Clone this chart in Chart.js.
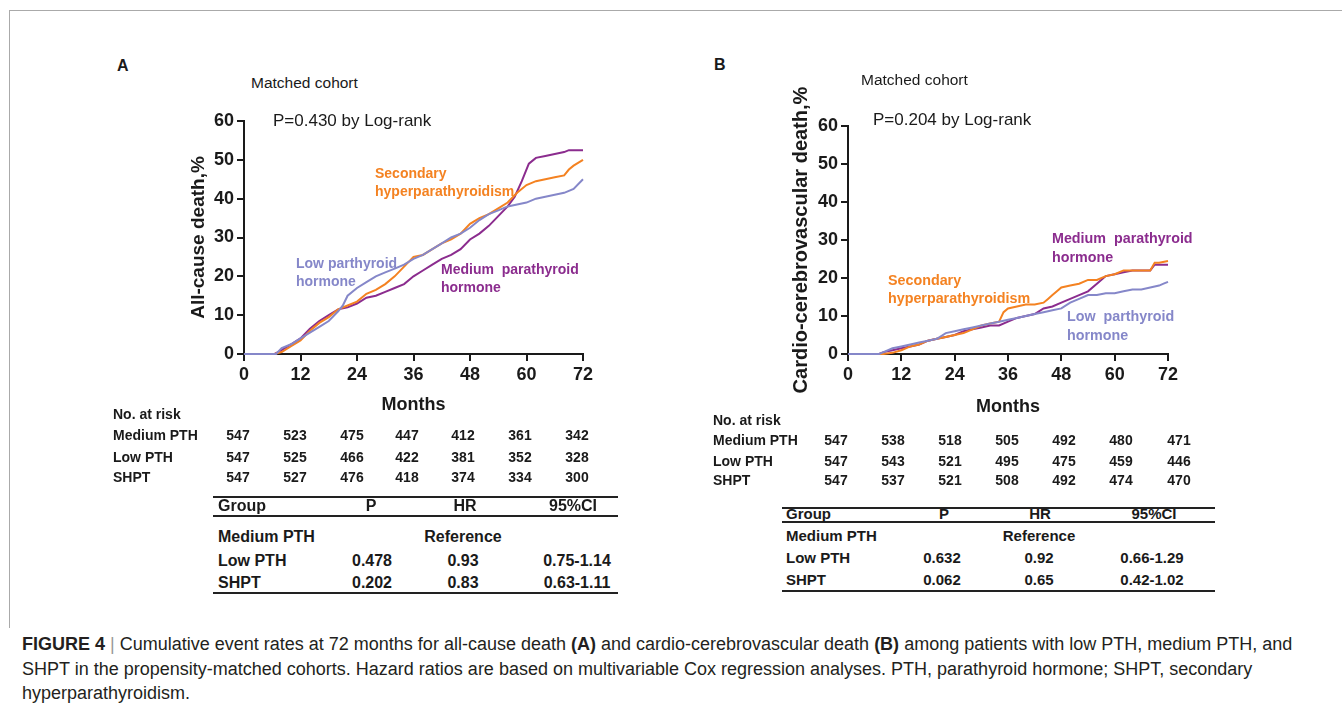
<!DOCTYPE html>
<html>
<head>
<meta charset="utf-8">
<script src="https://cdn.jsdelivr.net/npm/chart.js@4.4.1/dist/chart.umd.min.js"></script>
<style>
  body { margin: 0; background: #fff; }
  #page { position: relative; width: 1342px; height: 711px; overflow: hidden;
          font-family: 'Liberation Sans', Arial, sans-serif; color: #1a1a1a; }
  canvas { position: absolute; }
  .t { position: absolute; white-space: pre; }
  .rule { position: absolute; background: #222; }
  .frame { position: absolute; background: #aaa; }
</style>
</head>
<body>
<div id="page">
  <div class="frame" style="left:9px;top:10px;width:1333px;height:1px"></div>
  <div class="frame" style="left:9px;top:10px;width:1px;height:618px"></div>
  <canvas id="chartA" width="430" height="316" style="left:170px;top:100px"></canvas>
  <canvas id="chartB" width="415" height="348" style="left:770px;top:70px"></canvas>
</div>
<script>
// colours
const C_MED = '#8b2c8e';
const C_LOW = '#8587c9';
const C_SHPT = '#f48221';

// ---- Panel A: all-cause death (%) ----
const aMedMonths = [0, 6.5, 8, 10, 12, 14, 16, 18, 20, 22, 24, 26, 28, 30, 32, 34, 36, 38, 40, 42, 44, 46, 48, 50, 52, 54, 56, 57.5, 59, 60.5, 62, 64, 66, 68, 69, 70, 72];
const aMedValues = [0, 0, 1, 2.5, 4, 6.5, 8.5, 10, 11.5, 12, 13, 14.5, 15, 16, 17, 18, 20, 21.5, 23, 24.5, 25.5, 27, 29.5, 31, 33, 35.5, 38, 40.5, 44.5, 49, 50.5, 51, 51.5, 52, 52.5, 52.5, 52.5];
const aLowMonths = [0, 6.8, 8, 10, 12, 14, 16, 18, 20, 21, 22, 24, 26, 28, 30, 32, 34, 36, 38, 40, 42, 44, 46, 48, 50, 52, 54, 56, 58, 60, 62, 64, 66, 68, 70, 72];
const aLowValues = [0, 0, 1.5, 2.5, 4, 5.5, 7, 8.5, 11, 12.5, 15, 17, 18.5, 20, 21, 22, 23, 24.5, 25.5, 27, 28.5, 30, 31, 32.5, 34.5, 36, 37, 38, 38.5, 39, 40, 40.5, 41, 41.5, 42.5, 45];
const aShptMonths = [0, 6.5, 8, 10, 12, 14, 16, 18, 20, 22, 24, 26, 28, 30, 32, 34, 36, 38, 40, 42, 44, 46, 48, 50, 52, 54, 56, 58, 60, 62, 64, 66, 68, 69, 70, 72];
const aShptValues = [0, 0, 0.5, 2, 3.5, 6, 8, 9.5, 11.5, 12.5, 13.5, 15.5, 16.5, 18, 20, 22.5, 25, 25.5, 27, 28.5, 29.5, 31, 33.5, 35, 36, 37.5, 39, 41.5, 43.5, 44.5, 45, 45.5, 46, 47.5, 48.5, 50];

// ---- Panel B: cardio-cerebrovascular death (%) ----
const bMedMonths = [0, 7, 8, 10, 12, 14, 16, 18, 20, 22, 24, 26, 28, 30, 32, 34, 36, 38, 40, 42, 44, 46, 48, 50, 52, 54, 56, 58, 60, 62, 64, 66, 68, 69, 70, 72];
const bMedValues = [0, 0, 0.5, 1, 1.5, 2, 2.5, 3.5, 4, 4.5, 5, 6, 6.5, 7, 7.5, 7.5, 8.5, 9.5, 10, 10.5, 12, 12.5, 13.5, 14.5, 15.5, 16.5, 18.5, 20.5, 21, 21.5, 22, 22, 22, 23.5, 23.5, 23.5];
const bLowMonths = [0, 7, 8, 10, 12, 14, 16, 18, 20, 22, 24, 26, 28, 30, 32, 34, 36, 38, 40, 42, 44, 46, 48, 50, 52, 54, 56, 58, 60, 62, 64, 66, 68, 70, 71, 72];
const bLowValues = [0, 0, 0.5, 1.5, 2, 2.5, 3, 3.5, 4, 5.5, 6, 6.5, 7, 7.5, 8, 8.5, 9, 9.5, 10, 10.5, 11, 11.5, 12, 13.5, 14.5, 15.5, 15.5, 16, 16, 16.5, 17, 17, 17.5, 18, 18.5, 19];
const bShptMonths = [0, 8, 10, 12, 13, 14, 16, 18, 20, 22, 24, 26, 28, 30, 32, 34, 35, 36, 38, 40, 42, 44, 45, 46, 47, 48, 50, 52, 54, 56, 58, 60, 62, 64, 66, 68, 69, 70, 72];
const bShptValues = [0, 0, 0.3, 1, 1.5, 2, 2.5, 3.5, 4, 4.5, 5, 5.5, 6.5, 7.5, 8, 8.5, 11, 12, 12.5, 13, 13, 13.5, 14.5, 15.5, 16.5, 17.5, 18, 18.5, 19.5, 19.5, 20.5, 21, 22, 22, 22, 22, 24, 24, 24.5];

// number at risk (0,12,...,72 months)
const riskGroups = ['Medium PTH', 'Low PTH', 'SHPT'];
const riskA = [[547, 523, 475, 447, 412, 361, 342], [547, 525, 466, 422, 381, 352, 328], [547, 527, 476, 418, 374, 334, 300]];
const riskB = [[547, 538, 518, 505, 492, 480, 471], [547, 543, 521, 495, 475, 459, 446], [547, 537, 521, 508, 492, 474, 470]];

// Cox results: group, P, HR, 95%CI
const coxA = [['Medium PTH', '', 'Reference', ''], ['Low PTH', '0.478', '0.93', '0.75-1.14'], ['SHPT', '0.202', '0.83', '0.63-1.11']];
const coxB = [['Medium PTH', '', 'Reference', ''], ['Low PTH', '0.632', '0.92', '0.66-1.29'], ['SHPT', '0.062', '0.65', '0.42-1.02']];

const FONT = "'Liberation Sans', Arial, sans-serif";
Chart.defaults.font.family = FONT;
Chart.defaults.color = '#1a1a1a';

function pts(xs, ys) {
  return xs.map((m, i) => ({ x: m, y: ys[i] }));
}

function kmChart(id, lines, yTitle, yTitleSize, yW, xH, pad) {
  return new Chart(document.getElementById(id), {
    type: 'line',
    data: {
      datasets: lines.map(l => ({
        data: pts(l[0], l[1]),
        borderColor: l[2],
        borderWidth: 2,
        pointRadius: 0,
        tension: 0,
        fill: false,
        clip: 4
      }))
    },
    options: {
      responsive: false,
      animation: false,
      layout: { padding: pad },
      plugins: { legend: { display: false }, tooltip: { enabled: false } },
      scales: {
        x: {
          type: 'linear', min: 0, max: 72,
          ticks: { stepSize: 12, autoSkip: false, maxRotation: 0, padding: 3,
                   font: { size: 18, weight: 'bold' }, color: '#1a1a1a' },
          grid: { drawOnChartArea: false, color: '#1a1a1a', lineWidth: 2, tickLength: 7 },
          border: { color: '#1a1a1a', width: 2 },
          title: { display: true, text: 'Months', padding: 0, color: '#1a1a1a',
                   font: { size: 18, weight: 'bold' } },
          afterFit: s => { s.height = xH; }
        },
        y: {
          min: 0, max: 60,
          ticks: { stepSize: 10, padding: 3, font: { size: 18, weight: 'bold' }, color: '#1a1a1a' },
          grid: { drawOnChartArea: false, color: '#1a1a1a', lineWidth: 2, tickLength: 7 },
          border: { color: '#1a1a1a', width: 2 },
          title: { display: true, text: yTitle, padding: 0, color: '#1a1a1a',
                   font: { size: yTitleSize, weight: 'bold' } },
          afterFit: s => { s.width = yW; }
        }
      }
    }
  });
}

kmChart('chartA', [
  [aLowMonths, aLowValues, C_LOW],
  [aShptMonths, aShptValues, C_SHPT],
  [aMedMonths, aMedValues, C_MED]
], 'All-cause death,%', 19, 57, 62, { left: 17, top: 21, right: 17, bottom: 0 });

kmChart('chartB', [
  [bLowMonths, bLowValues, C_LOW],
  [bShptMonths, bShptValues, C_SHPT],
  [bMedMonths, bMedValues, C_MED]
], 'Cardio-cerebrovascular death,%', 20, 59, 64, { left: 19, top: 56, right: 17, bottom: 0 });

// ---- text overlays ----
const page = document.getElementById('page');
function put(text, x, y, css, center) {
  const d = document.createElement('div');
  d.className = 't';
  d.textContent = text;
  Object.assign(d.style, css || {});
  d.style.left = x + 'px';
  d.style.top = y + 'px';
  d.style.transform = center ? 'translate(-50%,-50%)' : 'translateY(-50%)';
  page.appendChild(d);
  return d;
}
function rule(x, y, w, h) {
  const d = document.createElement('div');
  d.className = 'rule';
  Object.assign(d.style, { left: x + 'px', top: y + 'px', width: w + 'px', height: h + 'px' });
  page.appendChild(d);
}

const bold = (size, color) => ({ fontSize: size + 'px', fontWeight: 'bold', color: color || '#1a1a1a', lineHeight: '1.2' });
const reg = (size) => ({ fontSize: size + 'px', color: '#1a1a1a', lineHeight: '1.2' });

// panel A labels
put('A', 117, 66, bold(16));
put('Matched cohort', 251, 83, reg(15.5));
put('P=0.430 by Log-rank', 273, 121, reg(17));
put('Secondary', 375, 173, bold(14, C_SHPT));
put('hyperparathyroidism', 375, 191, bold(14, C_SHPT));
put('Low parthyroid', 296, 263, bold(14, C_LOW));
put('hormone', 296, 281, bold(14, C_LOW));
put('Medium  parathyroid', 441, 269, bold(14, C_MED));
put('hormone', 441, 287, bold(14, C_MED));

// panel B labels
put('B', 714, 65, bold(16));
put('Matched cohort', 861, 80, reg(15.5));
put('P=0.204 by Log-rank', 873, 120, reg(17));
put('Medium  parathyroid', 1052, 239, bold(14.3, C_MED));
put('hormone', 1052, 258, bold(14.3, C_MED));
put('Secondary', 888, 281, bold(14.3, C_SHPT));
put('hyperparathyroidism', 888, 299, bold(14.3, C_SHPT));
put('Low  parthyroid', 1067, 317, bold(14.3, C_LOW));
put('hormone', 1067, 336, bold(14.3, C_LOW));

// number at risk
function riskTable(left, headY, rowYs, colXs, data, size) {
  put('No. at risk', left, headY, bold(size));
  riskGroups.forEach((g, r) => {
    put(g, left, rowYs[r], bold(size));
    data[r].forEach((v, c) => put(String(v), colXs[c], rowYs[r], bold(size), true));
  });
}
riskTable(113, 414, [435, 457, 477], [238, 295, 352, 407, 463, 520, 577], riskA, 14);
riskTable(713, 420, [440, 461, 480], [836, 893, 950, 1007, 1064, 1121, 1179], riskB, 14);

// Cox tables
function coxTable(x0, x1, ruleYs, headY, rowYs, colXs, valXs, data, size) {
  rule(x0, ruleYs[0], x1 - x0, 2);
  rule(x0, ruleYs[1], x1 - x0, 1.5);
  rule(x0, ruleYs[2], x1 - x0, 2);
  const f = bold(size);
  put('Group', colXs[0], headY, f);
  put('P', colXs[1], headY, f, true);
  put('HR', colXs[2], headY, f, true);
  put('95%CI', colXs[3], headY, f, true);
  data.forEach((row, r) => {
    put(row[0], colXs[0], rowYs[r], f);
    for (let c = 1; c < 4; c++) {
      if (row[c]) put(row[c], valXs[c], rowYs[r], f, true);
    }
  });
}
coxTable(213, 618, [496, 515, 592], 506, [537, 561, 583], [218, 371, 465, 573], [0, 372, 463, 577], coxA, 16);
coxTable(782, 1215, [507, 521, 590], 514, [536, 558, 580], [786, 944, 1040, 1154], [0, 942, 1039, 1152], coxB, 15);

// caption
const cap = { fontSize: '18px', color: '#231f20', lineHeight: '1.2' };
const l1 = put('', 22, 645, cap);
l1.innerHTML = '<b>FIGURE 4</b> <span style="color:#999">|</span> Cumulative event rates at 72 months for all-cause death <b>(A)</b> and cardio-cerebrovascular death <b>(B)</b> among patients with low PTH, medium PTH, and';
put('SHPT in the propensity-matched cohorts. Hazard ratios are based on multivariable Cox regression analyses. PTH, parathyroid hormone; SHPT, secondary', 22, 670, cap);
put('hyperparathyroidism.', 22, 694, cap);
</script>
</body>
</html>
